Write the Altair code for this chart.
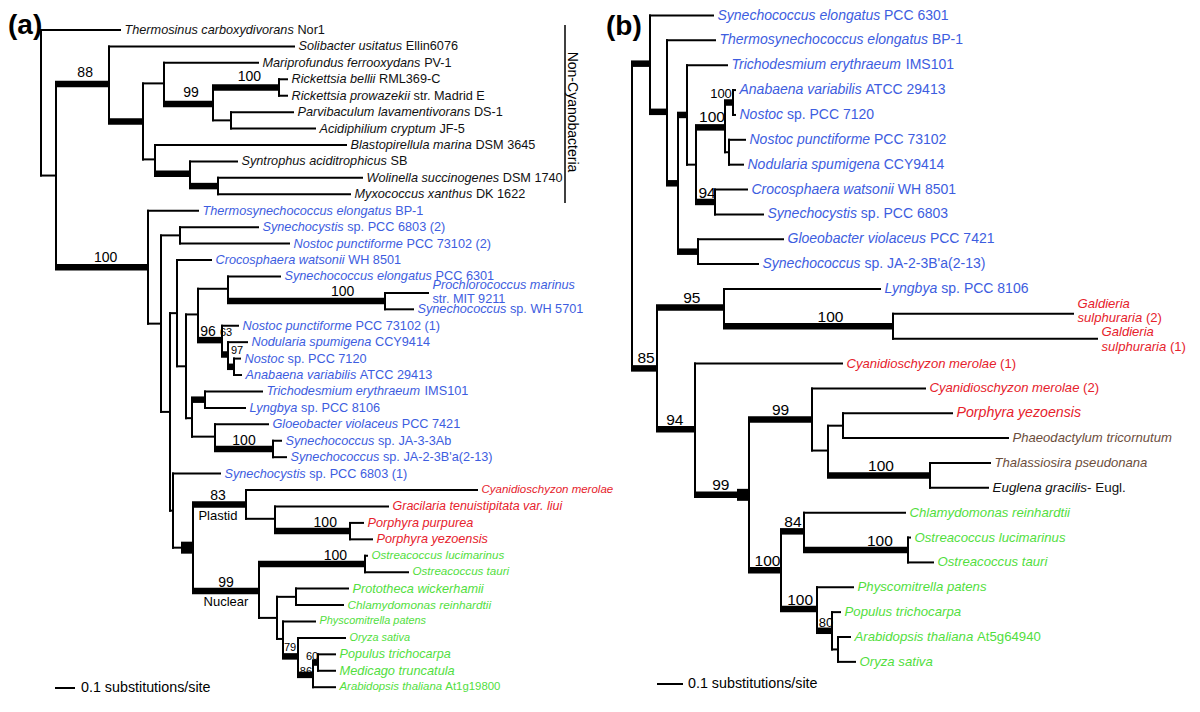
import altair as alt
import pandas as pd

FONT = "Liberation Sans"
W_CH, H_CH = 1184, 692

COLORS = {"k": "#111111", "b": "#3d5de0", "r": "#e6222c", "g": "#52de3e", "n": "#6b4d3b"}

# ---------------- panel (a): tree topology and branch depths ----------------
A_NODE = ["a0", "aTher", "a1", "a2", "aSoli", "a3", "a4", "aMari", "a5", "a6",
          "aRbel", "aRpro", "a7", "aParv", "aAcid", "a8", "aBlas", "a9", "aSynt", "a10",
          "aWoli", "aMyxo", "c0", "aTsyn", "c1", "c2", "aS68b", "aNp2", "c3", "c4",
          "aCroc", "c5", "c6", "c7", "aSel", "c8", "aProc", "aWH", "c9", "aNp1",
          "c10", "aNodu", "c11", "aNsp", "aAnab", "c12", "c13", "aTric", "aLyng", "c14",
          "aGloe", "c15", "aJA3", "aJA2", "c16", "aS68a", "e0", "e1", "p0", "aCyan",
          "p1", "aGrac", "p2", "aPpur", "aPyez", "n0", "n1", "aOluc", "aOtau", "n2",
          "n3", "aProt", "aChla", "n4", "aPhys", "n5", "aOryz", "n6", "n7", "aPopu",
          "aMedi", "aArab"]
A_PARENT = [None, "a0", "a0", "a1", "a2", "a2", "a3", "a4", "a4", "a5",
            "a6", "a6", "a5", "a7", "a7", "a3", "a8", "a8", "a9", "a9",
            "a10", "a10", "a1", "c0", "c0", "c1", "c2", "c2", "c1", "c3",
            "c4", "c4", "c5", "c6", "c7", "c7", "c8", "c8", "c6", "c9",
            "c9", "c10", "c10", "c11", "c11", "c5", "c12", "c13", "c13", "c12",
            "c14", "c14", "c15", "c15", "c3", "c16", "c16", "e0", "e1", "p0",
            "p0", "p1", "p1", "p2", "p2", "e1", "n0", "n1", "n1", "n0",
            "n2", "n3", "n3", "n2", "n4", "n4", "n5", "n5", "n6", "n7",
            "n7", "n6"]
A_X = [41, 120, 56, 109, 294, 143, 164, 258, 213, 279,
       287, 287, 231, 293, 315, 155, 346, 190, 237, 218,
       362, 350, 148, 198, 161, 180, 258, 289, 170, 177,
       211, 186, 198, 228, 280, 385, 428, 413, 222, 238,
       228, 247, 234, 240, 241, 192, 205, 262, 245, 215,
       268, 273, 281, 286, 173, 220, 182, 193, 246, 477,
       275, 388, 350, 363, 372, 259, 365, 367, 408, 277,
       296, 348, 343, 283, 315, 298, 345, 313, 318, 335,
       335, 335]
# 0 = thin branch, 1 = thick (well supported), 2 = short block
A_THICK = [0, 0, 0, 1, 0, 1, 0, 0, 1, 1,
           0, 0, 0, 0, 0, 0, 0, 1, 0, 1,
           0, 0, 1, 0, 0, 0, 0, 0, 0, 0,
           0, 0, 0, 0, 0, 1, 0, 0, 1, 0,
           1, 0, 1, 0, 0, 0, 1, 0, 0, 0,
           0, 1, 0, 0, 0, 0, 0, 2, 1, 0,
           0, 0, 1, 0, 0, 1, 1, 0, 0, 0,
           0, 0, 0, 0, 0, 1, 0, 1, 1, 0,
           0, 0]

A_LEAF = ["aTher", "aSoli", "aMari", "aRbel", "aRpro", "aParv", "aAcid", "aBlas", "aSynt", "aWoli",
          "aMyxo", "aTsyn", "aS68b", "aNp2", "aCroc", "aSel", "aProc", "aWH", "aNp1", "aNodu",
          "aNsp", "aAnab", "aTric", "aLyng", "aGloe", "aJA3", "aJA2", "aS68a", "aCyan", "aGrac",
          "aPpur", "aPyez", "aOluc", "aOtau", "aProt", "aChla", "aPhys", "aOryz", "aPopu", "aMedi",
          "aArab"]
A_LABEL = ["_Thermosinus carboxydivorans_ Nor1", "_Solibacter usitatus_ Ellin6076",
           "_Mariprofundus ferrooxydans_ PV-1", "_Rickettsia bellii_ RML369-C",
           "_Rickettsia prowazekii_ str. Madrid E", "_Parvibaculum lavamentivorans_ DS-1",
           "_Acidiphilium cryptum_ JF-5", "_Blastopirellula marina_ DSM 3645",
           "_Syntrophus aciditrophicus_ SB", "_Wolinella succinogenes_ DSM 1740",
           "_Myxococcus xanthus_ DK 1622", "_Thermosynechococcus elongatus_ BP-1",
           "_Synechocystis_ sp. PCC 6803 (2)", "_Nostoc punctiforme_ PCC 73102 (2)",
           "_Crocosphaera watsonii_ WH 8501", "_Synechococcus elongatus_ PCC 6301",
           "_Prochlorococcus marinus_\nstr. MIT 9211", "_Synechococcus_ sp. WH 5701",
           "_Nostoc punctiforme_ PCC 73102 (1)", "_Nodularia spumigena_ CCY9414",
           "_Nostoc_ sp. PCC 7120", "_Anabaena variabilis_ ATCC 29413",
           "_Trichodesmium erythraeum_ IMS101", "_Lyngbya_ sp. PCC 8106",
           "_Gloeobacter violaceus_ PCC 7421", "_Synechococcus_ sp. JA-3-3Ab",
           "_Synechococcus_ sp. JA-2-3B'a(2-13)", "_Synechocystis_ sp. PCC 6803 (1)",
           "_Cyanidioschyzon merolae_", "_Gracilaria tenuistipitata var. liui_",
           "_Porphyra purpurea_", "_Porphyra yezoensis_",
           "_Ostreacoccus lucimarinus_", "_Ostreacoccus tauri_",
           "_Prototheca wickerhamii_", "_Chlamydomonas reinhardtii_",
           "_Physcomitrella patens_", "_Oryza sativa_",
           "_Populus trichocarpa_", "_Medicago truncatula_",
           "_Arabidopsis thaliana_ At1g19800"]
A_COLOR = ["k"] * 11 + ["b"] * 17 + ["r"] * 4 + ["g"] * 9
A_SIZE = [12.7] * 28 + [11.5, 12.5, 12.7, 12.7, 11.6, 11.6, 12.7, 11.8, 10.9, 10.9, 12.6, 12.8, 11.4]

A_SUP_NODE = ["a2", "a5", "a6", "c0", "c8", "c9", "c10", "c11", "c15", "p0", "p2", "n0", "n1", "n5", "n6", "n7"]
A_SUP_TEXT = ["88", "99", "100", "100", "100", "96", "63", "97", "100", "83", "100", "99", "100", "79", "86", "60"]
A_SUP_FRAC = [0.55, 0.55, 0.55, 0.54, 0.73, 0.42, 0.67, 1.5, 0.5, 0.47, 0.67, 0.5, 0.72, 0.47, 0.53, -0.2]
A_SUP_DY = [-10.5, -11, -11, -9, -9.5, -8, -21, -16, -8, -8.5, -8.5, -8, -8, -8, -3, -5.5]
A_SUP_SMALL = [0, 0, 0, 0, 0, 0, 1, 1, 0, 0, 0, 0, 0, 1, 1, 1]

A_CLADE_NODE = ["p0", "n0"]
A_CLADE_TEXT = ["Plastid", "Nuclear"]

# ---------------- panel (b) ----------------
B_NODE = ["b0", "b1", "bSel", "b2", "bTsyn", "b3", "b4", "bTric", "b5", "b6",
          "b7", "bAnab", "bNsp", "b8", "bNpun", "bNodu", "b9", "bCroc", "bS68", "b10",
          "bGloe", "bJA2", "r0", "r1", "bLyng", "r2", "bGal2", "bGal1", "r3", "bCyan1",
          "r4", "r5", "r6", "bCyan2", "r7", "r8", "bPyez", "bPhae", "r9", "bThal",
          "bEugl", "g0", "g1", "bChla", "g2", "bOluc", "bOtau", "g3", "bPhys", "g4",
          "bPopu", "g5", "bArab", "bOryz"]
B_PARENT = [None, "b0", "b1", "b1", "b2", "b2", "b3", "b4", "b4", "b5",
            "b6", "b7", "b7", "b6", "b8", "b8", "b5", "b9", "b9", "b3",
            "b10", "b10", "b0", "r0", "r1", "r1", "r2", "r2", "r0", "r3",
            "r3", "r4", "r5", "r6", "r6", "r7", "r8", "r8", "r7", "r9",
            "r9", "r5", "g0", "g1", "g1", "g2", "g2", "g0", "g3", "g3",
            "g4", "g4", "g5", "g5"]
B_X = [632, 650, 713, 667, 715, 678, 687, 727, 696, 725,
       733, 735, 735, 729, 745, 743, 715, 747, 763, 698,
       783, 758, 657, 724, 880, 893, 1073, 1097, 695, 842,
       738, 749, 812, 925, 828, 843, 952, 1008, 930, 990,
       988, 781, 804, 905, 908, 910, 933, 817, 853, 832,
       840, 838, 850, 855]
B_THICK = [0, 1, 0, 1, 0, 1, 1, 0, 0, 1,
           1, 0, 0, 0, 0, 0, 1, 0, 0, 1,
           0, 0, 1, 1, 0, 1, 0, 0, 1, 0,
           1, 2, 1, 0, 0, 0, 0, 0, 1, 0,
           0, 1, 1, 0, 1, 0, 0, 1, 0, 1,
           0, 0, 0, 0]

B_LEAF = ["bSel", "bTsyn", "bTric", "bAnab", "bNsp", "bNpun", "bNodu", "bCroc", "bS68", "bGloe",
          "bJA2", "bLyng", "bGal2", "bGal1", "bCyan1", "bCyan2", "bPyez", "bPhae", "bThal", "bEugl",
          "bChla", "bOluc", "bOtau", "bPhys", "bPopu", "bArab", "bOryz"]
B_LABEL = ["_Synechococcus elongatus_ PCC 6301", "_Thermosynechococcus elongatus_ BP-1",
           "_Trichodesmium erythraeum_ IMS101", "_Anabaena variabilis_ ATCC 29413",
           "_Nostoc_ sp. PCC 7120", "_Nostoc punctiforme_ PCC 73102",
           "_Nodularia spumigena_ CCY9414", "_Crocosphaera watsonii_ WH 8501",
           "_Synechocystis_ sp. PCC 6803", "_Gloeobacter violaceus_ PCC 7421",
           "_Synechococcus_ sp. JA-2-3B'a(2-13)", "_Lyngbya_ sp. PCC 8106",
           "_Galdieria_\n_sulphuraria_ (2)", "_Galdieria_\n_sulphuraria_ (1)",
           "_Cyanidioschyzon merolae_ (1)", "_Cyanidioschyzon merolae_ (2)",
           "_Porphyra yezoensis_", "_Phaeodactylum tricornutum_",
           "_Thalassiosira pseudonana_", "_Euglena gracilis_- Eugl.",
           "_Chlamydomonas reinhardtii_", "_Ostreacoccus lucimarinus_",
           "_Ostreacoccus tauri_", "_Physcomitrella patens_",
           "_Populus trichocarpa_", "_Arabidopsis thaliana_ At5g64940",
           "_Oryza sativa_"]
B_COLOR = ["b"] * 12 + ["r"] * 5 + ["n", "n", "k"] + ["g"] * 7
B_SIZE = [14.0] * 12 + [13.1, 13.1, 13.1, 13.1, 14.2, 13.1, 13.1, 13.4] + [13.2] * 7

B_SUP_NODE = ["b6", "b7", "b9", "r0", "r1", "r2", "r3", "r4", "r6", "r9", "g0", "g1", "g2", "g3", "g4"]
B_SUP_TEXT = ["100", "100", "94", "85", "95", "100", "94", "99", "99", "100", "100", "84", "100", "100", "80"]
B_SUP_FRAC = [0.55, -0.5, 0.58, 0.56, 0.52, 0.63, 0.47, 0.6, 0.5, 0.52, 0.58, 0.52, 0.73, 0.53, 0.6]
B_SUP_DY = [-10, -9, -9, -10, -9.5, -9, -9, -10, -9, -9, -9.5, -9.5, -9, -9, -8]
B_SUP_SMALL = [0, 1, 0, 0, 0, 0, 0, 0, 0, 0, 0, 0, 0, 0, 1]

# two-line labels: vertical shift of the text block
MULTI_LEAF = ["aProc", "bGal2", "bGal1"]
MULTI_SHIFT = [-1.0, -3.0, 1.0]

# Arial / Liberation Sans advance widths (per 1000 em)
CHAR_W = {" ": 278, "!": 278, "'": 191, "(": 333, ")": 333, "-": 333, ".": 278, "/": 278, ":": 278,
          "A": 667, "B": 667, "C": 722, "D": 722, "E": 667, "F": 611, "G": 778, "H": 722, "I": 278,
          "J": 500, "K": 667, "L": 556, "M": 833, "N": 722, "O": 778, "P": 667, "Q": 778, "R": 722,
          "S": 667, "T": 611, "U": 722, "V": 667, "W": 944, "X": 667, "Y": 667, "Z": 611,
          "a": 556, "b": 556, "c": 500, "d": 556, "e": 556, "f": 278, "g": 556, "h": 556, "i": 222,
          "j": 222, "k": 500, "l": 222, "m": 833, "n": 556, "o": 556, "p": 556, "q": 556, "r": 333,
          "s": 500, "t": 278, "u": 556, "v": 500, "w": 722, "x": 500, "y": 500, "z": 500}

STROKE = {1: 6.5, 2: 12.0}


def text_width(s, size):
    return sum(CHAR_W.get(ch, 556) for ch in s) * size / 1000.0


def build(nodes, parents, xs, thick, leaves, rows, y0, dy):
    par = dict(zip(nodes, parents))
    X = dict(zip(nodes, xs))
    TH = dict(zip(nodes, thick))
    children = {n: [] for n in nodes}
    for n, p in zip(nodes, parents):
        if p is not None:
            children[p].append(n)
    Y = {n: y0 + dy * r for n, r in zip(leaves, rows)}

    def gy(n):
        if n not in Y:
            ys = [gy(c) for c in children[n]]
            Y[n] = (min(ys) + max(ys)) / 2.0
        return Y[n]

    for n in nodes:
        gy(n)
    thin, thk = [], []
    for n in nodes:
        p = par[n]
        if p is not None:
            if TH[n]:
                thk.append(dict(x=X[p] - 1, x2=X[n], y=Y[n], y2=Y[n], w=STROKE[TH[n]]))
            else:
                thin.append(dict(x=X[p], x2=X[n], y=Y[n], y2=Y[n]))
        if children[n]:
            ys = [Y[c] for c in children[n]]
            if max(ys) > min(ys):
                thin.append(dict(x=X[n], x2=X[n], y=min(ys), y2=max(ys)))
    return X, Y, par, thin, thk


def label_pieces(labels, leaves, colors, sizes, X, Y, gap=4.5):
    shift = dict(zip(MULTI_LEAF, MULTI_SHIFT))
    out = []
    for lab, leaf, col, size in zip(labels, leaves, colors, sizes):
        lines = lab.split("\n")
        if len(lines) == 1:
            offs = [0.0]
        else:
            s = shift.get(leaf, 0.0)
            offs = [-0.55 * size + s, 0.55 * size + s]
        for line, off in zip(lines, offs):
            cur = X[leaf] + gap
            for i, part in enumerate(line.split("_")):
                if part == "":
                    continue
                lead = len(part) - len(part.lstrip(" "))
                txt = part.strip(" ")
                if txt:
                    out.append(dict(x=cur + text_width(" " * lead, size), y=Y[leaf] + off, t=txt,
                                    it=1 if i % 2 == 1 else 0, c=COLORS[col], s=size))
                cur += text_width(part, size)
    return out


def support_pieces(snodes, texts, fracs, dys, smalls, X, Y, par, big, small):
    out = []
    for n, t, f, d, sm in zip(snodes, texts, fracs, dys, smalls):
        p = par[n]
        out.append(dict(x=X[p] + f * (X[n] - X[p]), y=Y[n] + d, t=t, s=small if sm else big))
    return out


A_ROWS = list(range(len(A_LEAF)))
B_ROWS = list(range(len(B_LEAF)))
AX, AY, APAR, a_thin, a_thick = build(A_NODE, A_PARENT, A_X, A_THICK, A_LEAF, A_ROWS, 30.0, 16.43)
BX, BY, BPAR, b_thin, b_thick = build(B_NODE, B_PARENT, B_X, B_THICK, B_LEAF, B_ROWS, 15.5, 24.86)

thin_df = pd.DataFrame(a_thin + b_thin)
thick_df = pd.DataFrame(a_thick + b_thick)
# scale bars and the Non-Cyanobacteria bracket
extra_df = pd.DataFrame([
    dict(x=55, x2=75, y=688, y2=688, w=2),
    dict(x=657, x2=683, y=684, y2=684, w=2),
    dict(x=565, x2=565, y=25, y2=203, w=1.5),
])

lab_df = pd.DataFrame(label_pieces(A_LABEL, A_LEAF, A_COLOR, A_SIZE, AX, AY)
                      + label_pieces(B_LABEL, B_LEAF, B_COLOR, B_SIZE, BX, BY))
sup_df = pd.DataFrame(support_pieces(A_SUP_NODE, A_SUP_TEXT, A_SUP_FRAC, A_SUP_DY, A_SUP_SMALL,
                                     AX, AY, APAR, 14, 11)
                      + support_pieces(B_SUP_NODE, B_SUP_TEXT, B_SUP_FRAC, B_SUP_DY, B_SUP_SMALL,
                                       BX, BY, BPAR, 15.5, 13))
clade_rows = []
for n, t, f, d in zip(A_CLADE_NODE, A_CLADE_TEXT, [0.47, 0.5], [11.5, 11]):
    p = APAR[n]
    clade_rows.append(dict(x=AX[p] + f * (AX[n] - AX[p]), y=AY[n] + d, t=t, s=13))
clade_df = pd.DataFrame(clade_rows)

misc_df = pd.DataFrame([
    dict(x=688, y=684, t="0.1 substitutions/site", s=14.3),
    dict(x=81, y=688, t="0.1 substitutions/site", s=14.3),
])
panel_df = pd.DataFrame([dict(x=8, y=26, t="(a)"), dict(x=606, y=27, t="(b)")])
side_df = pd.DataFrame([dict(x=572, y=112, t="Non-Cyanobacteria")])

xs = alt.Scale(domain=[8, 8 + W_CH], nice=False, zero=False)
ys = alt.Scale(domain=[8, 8 + H_CH], nice=False, zero=False, reverse=True)
X_ = alt.X("x:Q", scale=xs, axis=None)
Y_ = alt.Y("y:Q", scale=ys, axis=None)

thin_layer = alt.Chart(thin_df).mark_rule(color="black", strokeWidth=2, strokeCap="square").encode(
    x=X_, x2="x2:Q", y=Y_, y2="y2:Q")
thick_layer = alt.Chart(thick_df).mark_rule(color="black", strokeCap="butt").encode(
    x=X_, x2="x2:Q", y=Y_, y2="y2:Q", strokeWidth=alt.StrokeWidth("w:Q", scale=None))
extra_layer = alt.Chart(extra_df).mark_rule(color="black", strokeCap="butt").encode(
    x=X_, x2="x2:Q", y=Y_, y2="y2:Q", strokeWidth=alt.StrokeWidth("w:Q", scale=None))

ital_layer = alt.Chart(lab_df[lab_df.it == 1]).mark_text(
    align="left", baseline="middle", font=FONT, fontStyle="italic").encode(
    x=X_, y=Y_, text="t:N", color=alt.Color("c:N", scale=None), size=alt.Size("s:Q", scale=None))
plain_layer = alt.Chart(lab_df[lab_df.it == 0]).mark_text(
    align="left", baseline="middle", font=FONT).encode(
    x=X_, y=Y_, text="t:N", color=alt.Color("c:N", scale=None), size=alt.Size("s:Q", scale=None))
sup_layer = alt.Chart(sup_df).mark_text(align="center", baseline="middle", font=FONT, color="black").encode(
    x=X_, y=Y_, text="t:N", size=alt.Size("s:Q", scale=None))
clade_layer = alt.Chart(clade_df).mark_text(
    align="center", baseline="middle", font=FONT, color="black").encode(
    x=X_, y=Y_, text="t:N", size=alt.Size("s:Q", scale=None))
misc_layer = alt.Chart(misc_df).mark_text(align="left", baseline="middle", font=FONT, color="black").encode(
    x=X_, y=Y_, text="t:N", size=alt.Size("s:Q", scale=None))
panel_layer = alt.Chart(panel_df).mark_text(align="left", baseline="middle", font=FONT, fontWeight="bold",
                                            fontSize=28, color="black").encode(x=X_, y=Y_, text="t:N")
side_layer = alt.Chart(side_df).mark_text(align="center", baseline="middle", font=FONT, fontSize=14,
                                          angle=90, color="black").encode(x=X_, y=Y_, text="t:N")

chart = alt.layer(thin_layer, thick_layer, extra_layer, ital_layer, plain_layer, sup_layer,
                  clade_layer, misc_layer, panel_layer, side_layer).properties(
    width=W_CH, height=H_CH, padding=0, autosize="none", background="white"
).configure_view(stroke=None)

chart.save("out.html", embed_options={"renderer": "svg", "actions": False})
